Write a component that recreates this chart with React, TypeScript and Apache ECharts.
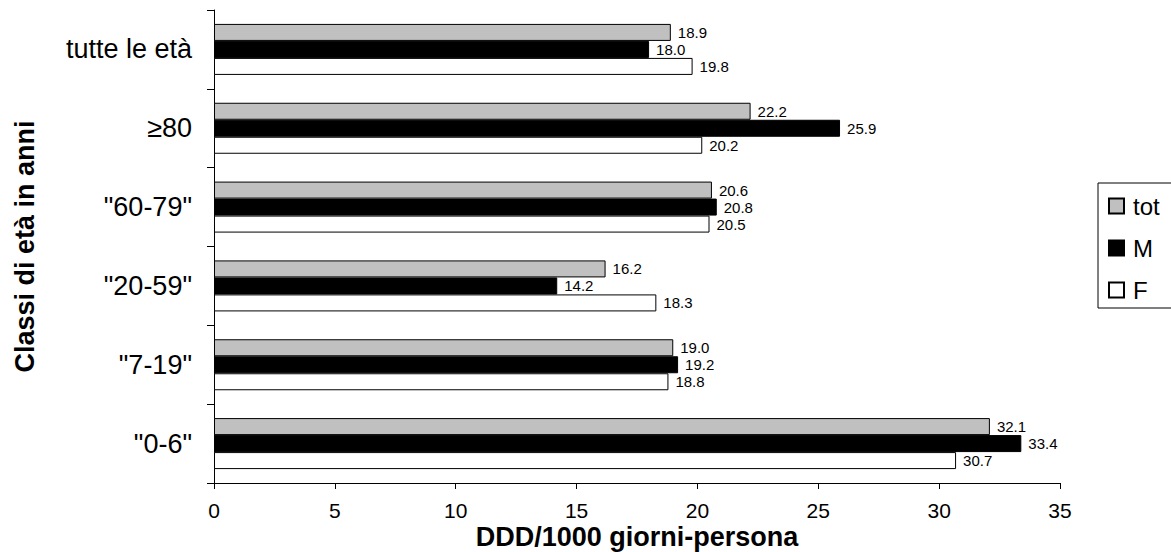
import React, { useEffect, useRef } from "react";
import * as echarts from "echarts";

const categories = ['"0-6"', '"7-19"', '"20-59"', '"60-79"', "≥80", "tutte le età"];
const totValues = [32.1, 19.0, 16.2, 20.6, 22.2, 18.9];
const mValues = [33.4, 19.2, 14.2, 20.8, 25.9, 18.0];
const fValues = [30.7, 18.8, 18.3, 20.5, 20.2, 19.8];
const seriesNames = ["tot", "M", "F"];

const FONT = "Liberation Sans, Arial, sans-serif";

export default function App() {
  const ref = useRef<HTMLDivElement>(null);
  useEffect(() => {
    if (!ref.current) return;
    const chart = echarts.init(ref.current, null, { renderer: "svg" });
    const label = {
      show: true,
      position: "right",
      distance: 6,
      fontSize: 15,
      fontFamily: FONT,
      color: "#000",
      backgroundColor: "#fff",
      padding: [0, 1],
      formatter: (p: any) => Number(p.value).toFixed(1),
    };
    const mk = (name: string, data: number[], color: string) => ({
      name,
      type: "bar",
      data,
      barWidth: 17,
      barGap: "0%",
      itemStyle: { color, borderColor: "#000", borderWidth: 1 },
      label,
    });
    chart.setOption({
      animation: false,
      textStyle: { fontFamily: FONT },
      grid: {
        left: 214,
        right: 111,
        top: 10,
        bottom: 69,
        containLabel: false,
        outerBoundsMode: "none",
      },
      legend: {
        data: seriesNames,
        orient: "vertical",
        left: 1098,
        top: 183,
        padding: [11, 40, 6, 10],
        itemGap: 18,
        itemWidth: 15,
        itemHeight: 15,
        borderColor: "#000",
        borderWidth: 1,
        borderRadius: 0,
        icon: "rect",
        textStyle: { fontSize: 24, fontFamily: FONT, color: "#000", padding: [0, 0, 0, 4] },
      },
      xAxis: {
        type: "value",
        min: 0,
        max: 35,
        interval: 5,
        splitLine: { show: false },
        axisLine: { show: true, lineStyle: { color: "#000", width: 1 } },
        axisTick: { show: true, length: 6, lineStyle: { color: "#000" } },
        axisLabel: { fontSize: 21, lineHeight: 20, color: "#000", margin: 17, fontFamily: FONT },
        name: "DDD/1000 giorni-persona",
        nameLocation: "middle",
        nameGap: 41,
        nameMoveOverlap: false,
        nameTextStyle: {
          fontSize: 27,
          lineHeight: 26,
          fontWeight: "bold",
          color: "#000",
          fontFamily: FONT,
        },
      },
      yAxis: {
        type: "category",
        data: categories,
        axisLine: { show: true, lineStyle: { color: "#000", width: 1 } },
        axisTick: { show: true, length: 7, lineStyle: { color: "#000" } },
        axisLabel: { fontSize: 27, color: "#000", margin: 22, fontFamily: FONT },
        name: "Classi di età in anni",
        nameLocation: "middle",
        nameGap: 176,
        nameMoveOverlap: false,
        nameRotate: 90,
        nameTextStyle: { fontSize: 27, fontWeight: "bold", color: "#000", fontFamily: FONT },
      },
      series: [
        mk("tot", totValues, "#c0c0c0"),
        mk("M", mValues, "#000000"),
        mk("F", fValues, "#ffffff"),
      ],
    });
    return () => chart.dispose();
  }, []);
  return (
    <div
      ref={ref}
      style={{ position: "absolute", left: 0, top: 0, width: 1171, height: 552, overflow: "hidden" }}
    />
  );
}
